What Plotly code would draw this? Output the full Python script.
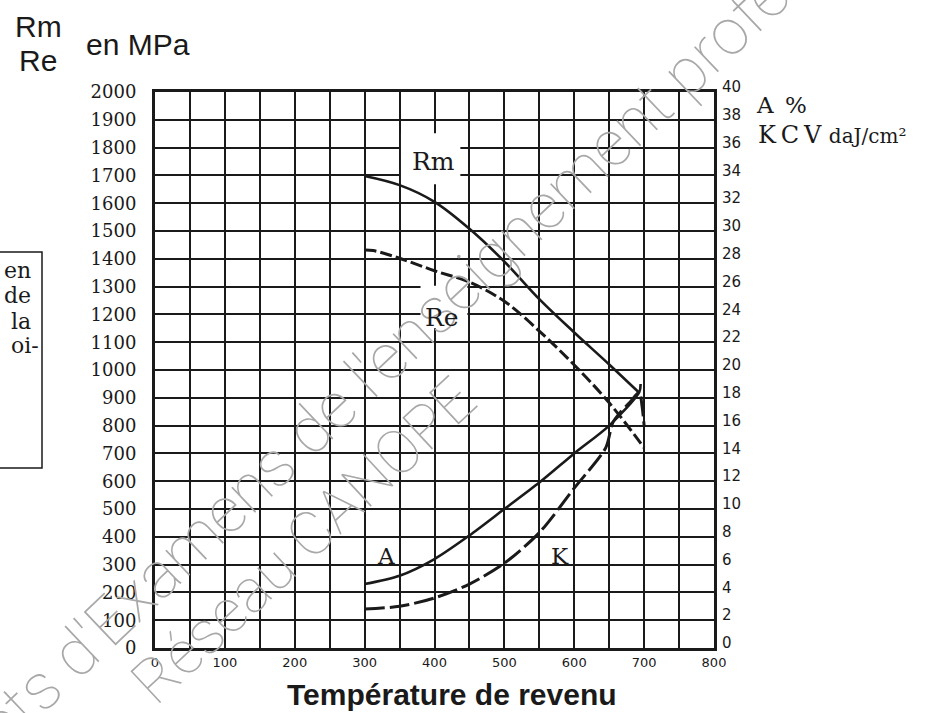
import plotly.graph_objects as go

# ---------------- data ----------------
x_ticks = list(range(0, 801, 50))
x_tick_labels = [str(v) if v % 100 == 0 else "" for v in x_ticks]
y_ticks = list(range(0, 2001, 100))
y_tick_labels = [str(v) for v in y_ticks]
y2_ticks = list(range(0, 41, 2))
y2_tick_labels = [str(v) for v in y2_ticks]

temp_rm = [300, 350, 400, 450, 500, 550, 600, 650, 693]
rm = [1698, 1665, 1605, 1508, 1390, 1255, 1135, 1020, 918]

temp_re = [300, 312, 350, 400, 450, 500, 550, 600, 650, 700]
re = [1432, 1430, 1402, 1357, 1316, 1247, 1140, 1018, 882, 720]

temp_a = [300, 350, 400, 450, 500, 550, 600, 650, 693, 695]
a_pct = [4.6, 5.2, 6.4, 8.1, 10.0, 11.9, 14.0, 16.0, 18.4, 19.0]

temp_k = [300, 350, 400, 450, 500, 550, 600, 645, 655, 665, 680, 693, 697, 700]
kcv = [2.8, 3.0, 3.6, 4.6, 6.1, 8.3, 11.5, 14.4, 16.2, 16.9, 17.7, 18.4, 17.4, 16.0]

# ---------------- geometry helpers ----------------
W, H = 930, 713
L, R, T, B = 155, 714, 92, 648


def pp(px, py):
    return (px - L) / (R - L), (B - py) / (B - T)


INK = "#1a1a1a"
SERIF = "DejaVu Serif"
SANS = "Liberation Sans"

fig = go.Figure()

fig.add_trace(go.Scatter(x=temp_rm, y=rm, mode="lines", name="Rm",
                         line=dict(color=INK, width=2.6, shape="spline", smoothing=1.0)))
fig.add_trace(go.Scatter(x=temp_re, y=re, mode="lines", name="Re",
                         line=dict(color=INK, width=3, dash="12px,4px", shape="spline", smoothing=1.0)))
fig.add_trace(go.Scatter(x=temp_a, y=a_pct, mode="lines", name="A", yaxis="y2",
                         line=dict(color=INK, width=2.6, shape="spline", smoothing=0.8)))
fig.add_trace(go.Scatter(x=temp_k, y=kcv, mode="lines", name="K", yaxis="y2",
                         line=dict(color=INK, width=3, dash="20px,5px", shape="spline", smoothing=0.8)))

# white cut-outs in the grid behind the curve labels
for x0, x1, y0, y1 in [(352, 437, 1668, 1852), (380, 447, 1150, 1303)]:
    fig.add_shape(type="rect", xref="x", yref="y", x0=x0, x1=x1, y0=y0, y1=y1,
                  fillcolor="white", line=dict(width=0), layer="between")

# partial frame on the left
bx0, by0 = pp(0, 252)
bx1, by1 = pp(42, 468)
fig.add_shape(type="path", xref="paper", yref="paper",
              path=f"M {bx0} {by0} L {bx1} {by0} L {bx1} {by1} L {bx0} {by1}",
              line=dict(color=INK, width=1.5))

annotations = []


def ann(text, px, py, size, family=SANS, xanchor="center", color=INK, **kw):
    x, y = pp(px, py)
    annotations.append(dict(text=text, x=x, y=y, xref="paper", yref="paper",
                            showarrow=False, xanchor=xanchor, yanchor="middle",
                            font=dict(family=family, size=size, color=color, **kw.pop("fontkw", {})),
                            **kw))


# axis titles
ann("Rm", 38, 26, 30)
ann("Re", 38, 61, 30)
ann("en MPa", 84, 44, 30, xanchor="left")
ann("A\u2002%", 754, 105, 23, family=SERIF, xanchor="left")
ann("K\u2009C\u2009V <span style='font-size:20px'>daJ/cm²</span>", 756, 135, 24, family=SERIF, xanchor="left")
ann("<b>Température de revenu</b>", 452, 694, 30)

# text in left box
for txt, py, pxr in [("en", 270, 33), ("de", 295, 33), ("la", 321, 33), ("oi-", 345, 41)]:
    ann(txt, pxr, py, 22, family=SERIF, xanchor="right")

# watermark
ann("Sujets d'Examens de l'enseignement professionnel", 435, 311, 65, color="#a8a8a8",
    textangle=-43.6, fontkw=dict(weight=100), family="Roboto")
ann("Réseau CANOPE", 303, 541, 61, color="#a8a8a8",
    textangle=-43.0, fontkw=dict(weight=100), family="Roboto")

# curve labels (data coords)
for txt, xv, yv, sz in [("Rm", 398, 1750, 25), ("Re", 411, 1189, 25), ("A", 330, 330, 23), ("K", 580, 330, 23)]:
    annotations.append(dict(text=txt, x=xv, y=yv, xref="x", yref="y", showarrow=False,
                            font=dict(family=SERIF, size=sz, color=INK)))

fig.update_layout(
    width=W, height=H,
    margin=dict(l=L, r=W - R, t=T, b=H - B, pad=0),
    paper_bgcolor="white", plot_bgcolor="white",
    showlegend=False,
    annotations=annotations,
    xaxis=dict(range=[0, 800], tickmode="array", tickvals=x_ticks, ticktext=x_tick_labels,
               showgrid=True, gridcolor=INK, gridwidth=2, zeroline=False,
               showline=True, linecolor=INK, linewidth=3, mirror=True, ticks="",
               tickfont=dict(family="DejaVu Sans", size=13, color=INK), ticklabelstandoff=0),
    yaxis=dict(range=[0, 2000], tickmode="array", tickvals=y_ticks, ticktext=y_tick_labels,
               showgrid=True, gridcolor=INK, gridwidth=2, zeroline=False,
               showline=True, linecolor=INK, linewidth=3, mirror=True, ticks="",
               tickfont=dict(family=SERIF, size=18, color=INK), ticklabelstandoff=12),
    yaxis2=dict(range=[0, 40], overlaying="y", side="right", tickmode="array",
                tickvals=y2_ticks, ticktext=y2_tick_labels, showgrid=False, zeroline=False,
                showline=False, ticks="", tickfont=dict(family="DejaVu Sans", size=15, color=INK),
                ticklabelstandoff=7, ticklabelshift=-5),
)

fig.write_html("out.html", config={"displayModeBar": False},
               post_script="document.body.style.margin='0';")
